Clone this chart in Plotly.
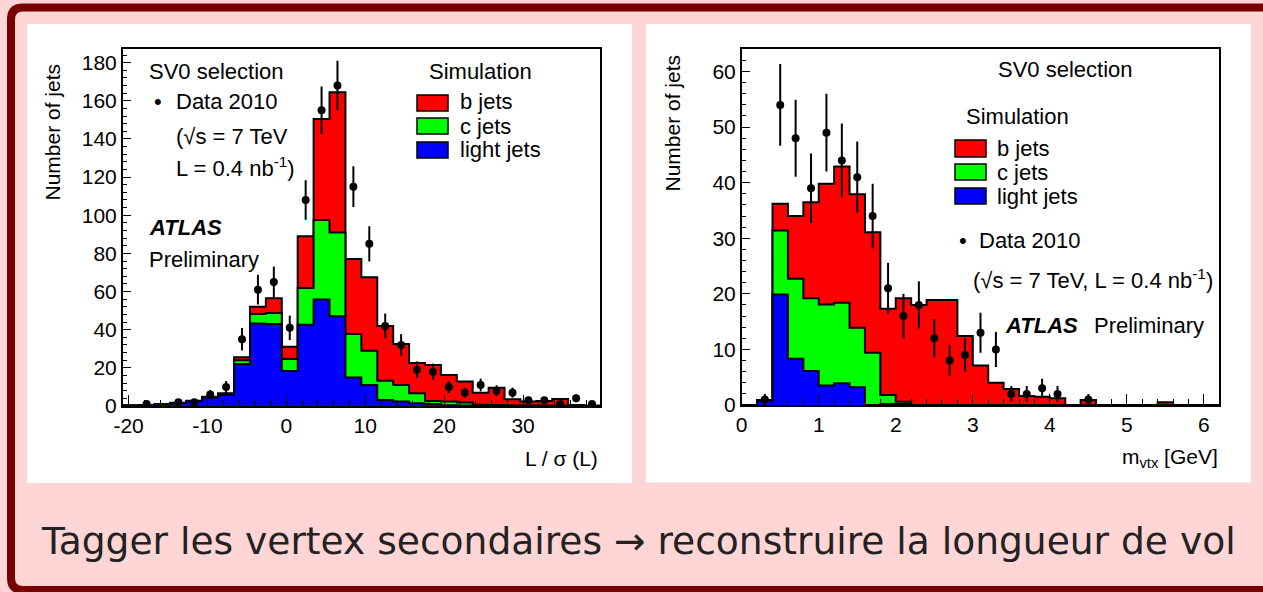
import numpy as np
import plotly.graph_objects as go

W, H = 1263, 592

# ---------------- Left panel: L / sigma(L) ----------------
L_range = [-20.75, 39.75]
L_nbins = 30
L_tickvals = [-20, -10, 0, 10, 20, 30]
L_ticktext = ["-20", "-10", "0", "10", "20", "30"]
L_b = [0.1, 0.1, 0.0, 0.1, 0.2, 0.2, 0.6, 1.5, 3.8, 7.7, 6.4, 27.2, 53.0, 73.6, 39.3,
       38.6, 28.8, 21.5, 15.8, 18.9, 14.0, 11.0, 6.3, 9.1, 3.2, 2.1, 2.4, 3.6, 0.4, 0.3]
L_c = [0.0, 0.0, 0.1, 0.1, 0.1, 0.2, 0.3, 2.0, 5.0, 5.8, 6.2, 19.2, 41.7, 43.9, 22.8,
       17.9, 10.0, 8.7, 5.3, 1.6, 1.9, 1.5, 0.5, 0.4, 0.2, 0.1, 0.2, 0.1, 0.1, 0.0]
L_light = [0.2, 0.4, 0.8, 1.5, 2.5, 4.5, 5.8, 22.0, 43.2, 43.0, 18.4, 42.6, 55.8, 47.0, 14.9,
           11.0, 3.2, 2.3, 1.4, 1.0, 0.4, 0.3, 0.2, 0.1, 0.1, 0.1, 0.0, 0.0, 0.0, 0.0]
L_data = [None, 1, None, 2, 2, 6, 10, 35, 61, 65, 41, 108, 155, 168, 115,
          85, 42, 32, 19, 18, 10, 7, 11, 8, 7, 3, 3, 1, 4, 1]

# ---------------- Right panel: m_vtx ----------------
M_range = [0.0, 6.2]
M_nbins = 31
M_b = [0, 0.0, 4.8, 11.3, 17.3, 21.7, 24.5, 24.0, 21.7, 15.5, 18.6, 18.0, 18.9, 18.9, 12.4,
       7.1, 4.0, 2.9, 1.6, 1.5, 1.2, 0, 0.9, 0, 0, 0, 0, 0.5, 0, 0, 0]
M_c = [0, 0.1, 11.5, 14.4, 13.1, 14.6, 14.5, 10.7, 9.4, 1.6, 0.4, 0, 0, 0, 0,
       0, 0, 0, 0, 0, 0, 0, 0, 0, 0, 0, 0, 0, 0, 0, 0]
M_light = [0, 0.8, 19.9, 8.3, 6.1, 3.5, 3.9, 3.2, 0.0, 0.2, 0.2, 0, 0, 0, 0,
           0, 0, 0, 0, 0, 0, 0, 0, 0, 0, 0, 0, 0, 0, 0, 0]
M_data = [None, 1, 54, 48, 39, 49, 44, 41, 34, 21, 16, 18, 12, 8, 9,
          13, 10, 2, 2, 3, 2, None, 1, None, None, None, None, None, None, None, None]

CAPTION = "Tagger les vertex secondaires → reconstruire la longueur de vol"

FONT = "Liberation Sans, Arial, Helvetica, sans-serif"
RED, GREEN, BLUE = "#ff0000", "#00ff00", "#0000ff"


def px(x):
    return x / W


def py(y):
    return 1 - y / H


fig = go.Figure()


def add_stack(xa, ya, rng, nb, b, c, light, data):
    edges = np.linspace(rng[0], rng[1], nb + 1)
    centers = 0.5 * (edges[:-1] + edges[1:])
    light = np.array(light, float)
    cl = light + np.array(c, float)
    tot = cl + np.array(b, float)
    for vals, col in ((tot, RED), (cl, GREEN), (light, BLUE)):
        yv = list(vals) + [vals[-1]]
        fig.add_trace(go.Scatter(
            x=edges, y=yv, xaxis=xa, yaxis=ya, mode="lines",
            line=dict(shape="hv", color="black", width=2),
            fill="tozeroy", fillcolor=col, showlegend=False, hoverinfo="skip"))
    dv = np.array([np.nan if v is None else v for v in data], float)
    fig.add_trace(go.Scatter(
        x=centers, y=dv, xaxis=xa, yaxis=ya, mode="markers",
        marker=dict(color="black", size=8),
        error_y=dict(type="data", array=np.sqrt(np.nan_to_num(dv)), thickness=2,
                     width=0, color="black"),
        showlegend=False, hoverinfo="skip"))


add_stack("x", "y", L_range, L_nbins, L_b, L_c, L_light, L_data)
add_stack("x2", "y2", M_range, M_nbins, M_b, M_c, M_light, M_data)

axis_common = dict(showline=True, linecolor="black", linewidth=1.5, mirror=True,
                   showgrid=False, zeroline=False, ticks="inside", tickcolor="black",
                   tickwidth=1, automargin=False,
                   tickfont=dict(family=FONT, size=21, color="black"))

fig.update_layout(
    width=W, height=H, margin=dict(l=0, r=0, t=0, b=0, pad=0, autoexpand=False),
    paper_bgcolor="#ffd5d5", plot_bgcolor="white",
    xaxis=dict(domain=[px(122.7), px(600)], range=L_range, anchor="y",
               tickmode="array", tickvals=L_tickvals, ticktext=L_ticktext, ticklen=11,
               minor=dict(dtick=2, tick0=0, ticklen=6, ticks="inside", tickcolor="black"),
               **axis_common),
    yaxis=dict(domain=[py(406), py(49.3)], range=[0, 187], anchor="x",
               tick0=0, dtick=20, ticklen=9,
               minor=dict(dtick=4, ticklen=5, ticks="inside", tickcolor="black"),
               **axis_common),
    xaxis2=dict(domain=[px(741.7), px(1219.3)], range=M_range, anchor="y2",
                tick0=0, dtick=1, ticklen=11,
                minor=dict(dtick=0.2, ticklen=6, ticks="inside", tickcolor="black"),
                **axis_common),
    yaxis2=dict(domain=[py(405), py(49.3)], range=[0, 64], anchor="x2",
                tick0=0, dtick=10, ticklen=9,
                minor=dict(dtick=2, ticklen=5, ticks="inside", tickcolor="black"),
                **axis_common),
)

shapes = []
# outer frame
r = 12
x0, y0, x1, y1 = 11, 7.5, 1272, 590
path = (f"M {px(x0)},{py(y0 + r)} Q {px(x0)},{py(y0)} {px(x0 + r)},{py(y0)} "
        f"L {px(x1)},{py(y0)} L {px(x1)},{py(y1)} L {px(x0 + r)},{py(y1)} "
        f"Q {px(x0)},{py(y1)} {px(x0)},{py(y1 - r)} Z")
shapes.append(dict(type="path", xref="paper", yref="paper", path=path,
                   line=dict(color="#7a0000", width=8), fillcolor="rgba(0,0,0,0)",
                   layer="above"))
# white panels
for (a, b_, c_, d) in ((27, 24, 632, 483), (646, 24, 1251, 482.5)):
    shapes.append(dict(type="rect", xref="paper", yref="paper", x0=px(a), x1=px(c_),
                       y0=py(d), y1=py(b_), fillcolor="white", line=dict(width=0),
                       layer="below"))
# legend boxes
for (bx0, bx1, boxes) in ((417, 448, ((95, 111, RED), (118, 134, GREEN), (142, 158, BLUE))),
                          (955, 986, ((140, 157, RED), (164, 180, GREEN), (188, 204, BLUE)))):
    for (t, bt, col) in boxes:
        shapes.append(dict(type="rect", xref="paper", yref="paper", x0=px(bx0), x1=px(bx1),
                           y0=py(bt), y1=py(t), fillcolor=col,
                           line=dict(color="black", width=1.5), layer="above"))
fig.update_layout(shapes=shapes)

ann = []


def txt(x, y, s, size=22, xanchor="left", yanchor="middle", angle=0, family=FONT, color="black"):
    ann.append(dict(x=px(x), y=py(y), xref="paper", yref="paper", text=s, showarrow=False,
                    xanchor=xanchor, yanchor=yanchor, textangle=angle,
                    font=dict(family=family, size=size, color=color)))


# left panel texts
txt(147, 71, "SV0 selection")
txt(152, 101, "•")
txt(174, 102, "Data 2010")
txt(174, 137, "(√s = 7 TeV")
txt(174, 167, "L = 0.4 nb<sup>-1</sup>)")
txt(147, 227, "<b><i>ATLAS</i></b>")
txt(147, 259, "Preliminary")
txt(427, 71, "Simulation")
txt(458, 102, "b jets")
txt(458, 126, "c jets")
txt(458, 149, "light jets")
txt(52, 62, "Number of jets", size=21, xanchor="center", yanchor="top", angle=-90)
txt(600, 458, "L / σ (L)", size=21, xanchor="right")

# right panel texts
txt(996, 69, "SV0 selection")
txt(964, 117, "Simulation")
txt(995, 148, "b jets")
txt(995, 172, "c jets")
txt(995, 196, "light jets")
txt(957, 240, "•")
txt(977, 241, "Data 2010")
txt(971, 279, "(√s = 7 TeV, L = 0.4 nb<sup>-1</sup>)")
txt(1003, 325, "<b><i>ATLAS</i></b>")
txt(1092, 325, "Preliminary")
txt(672, 53, "Number of jets", size=21, xanchor="center", yanchor="top", angle=-90)
txt(1220, 458, "m<sub>vtx</sub> [GeV]", size=21, xanchor="right")

# caption
txt(638, 541, CAPTION, size=37.6, xanchor="center", family="DejaVu Sans", color="#222222")

fig.update_layout(annotations=ann)

fig.write_html(
    "out.html",
    config={"displayModeBar": False},
    post_script="document.body.style.margin='0';document.body.style.overflow='hidden';"
                "document.documentElement.style.overflow='hidden';",
)
